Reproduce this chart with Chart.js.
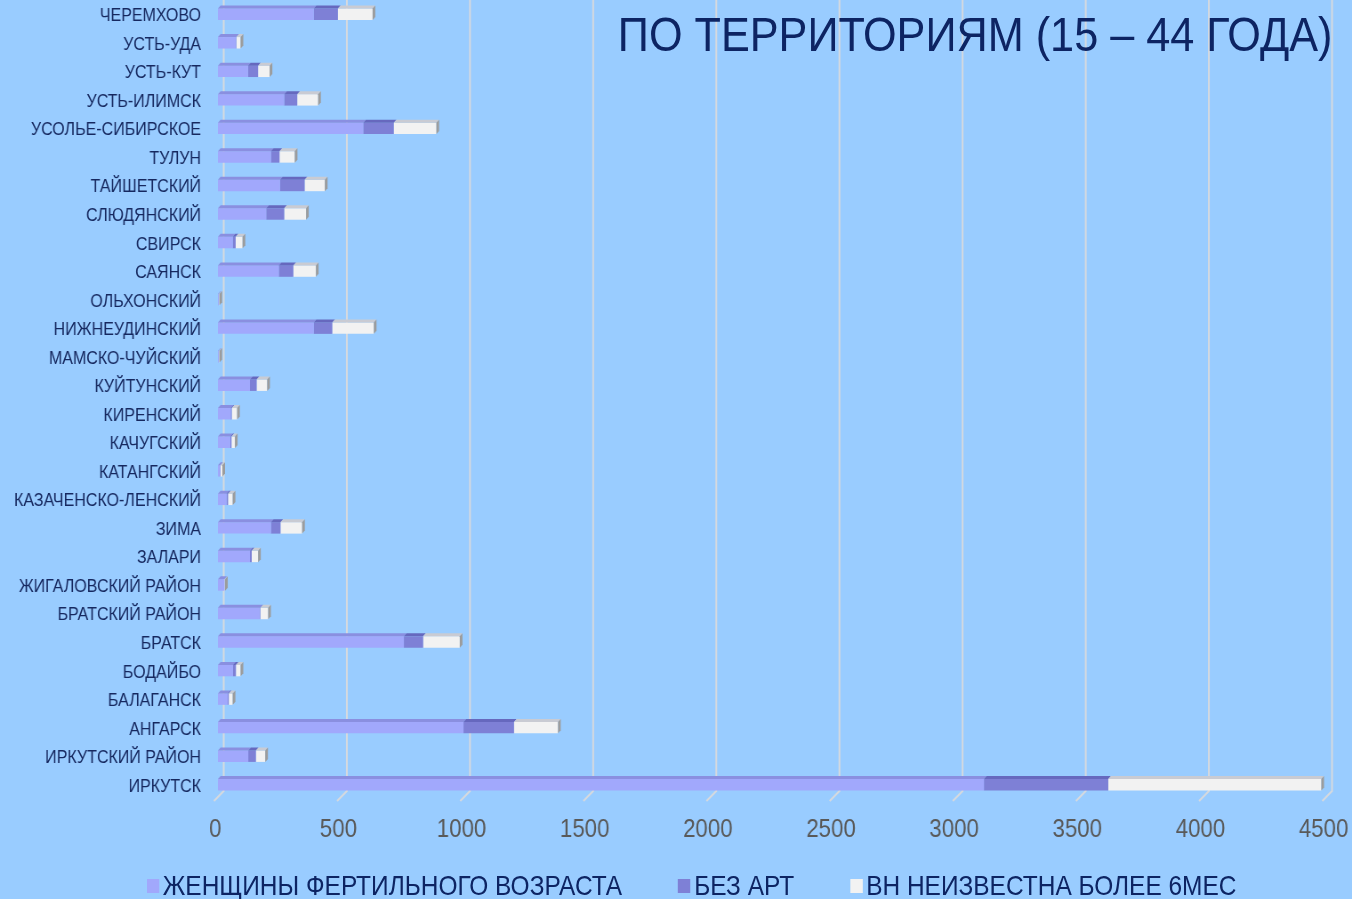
<!DOCTYPE html>
<html>
<head>
<meta charset="utf-8">
<script src="https://cdn.jsdelivr.net/npm/chart.js@4.4.1/dist/chart.umd.min.js"></script>
<style>
  html, body { margin: 0; padding: 0; background: #99CCFF; overflow: hidden; }
  #wrap { position: absolute; left: 0; top: 0; width: 1520px; height: 899px;
          transform: scaleX(0.8895); transform-origin: 0 0; }
  #c { position: absolute; left: 0; top: 0; }
  #title { position: absolute; right: 22px; top: 10px; font-family: "Liberation Sans", Arial, sans-serif;
           font-size: 48.6px; line-height: 48px; color: #0d2463; white-space: nowrap; }
  #legend { position: absolute; left: 165px; top: 872px; display: flex; align-items: center;
            font-family: "Liberation Sans", Arial, sans-serif; font-size: 27.5px; line-height: 27px; color: #0d2463; white-space: nowrap; }
  .item { display: flex; align-items: center; margin-right: 63px; }
  .box { width: 14px; height: 14px; margin-right: 4px; }
</style>
</head>
<body>
<div id="wrap">
  <canvas id="c" width="1520" height="899"></canvas>
  <div id="title">ПО ТЕРРИТОРИЯМ (15 – 44 ГОДА)</div>
  <div id="legend"></div>
</div>
<script>
const categories = ['ЧЕРЕМХОВО','УСТЬ-УДА','УСТЬ-КУТ','УСТЬ-ИЛИМСК','УСОЛЬЕ-СИБИРСКОЕ','ТУЛУН','ТАЙШЕТСКИЙ','СЛЮДЯНСКИЙ','СВИРСК','САЯНСК','ОЛЬХОНСКИЙ','НИЖНЕУДИНСКИЙ','МАМСКО-ЧУЙСКИЙ','КУЙТУНСКИЙ','КИРЕНСКИЙ','КАЧУГСКИЙ','КАТАНГСКИЙ','КАЗАЧЕНСКО-ЛЕНСКИЙ','ЗИМА','ЗАЛАРИ','ЖИГАЛОВСКИЙ РАЙОН','БРАТСКИЙ РАЙОН','БРАТСК','БОДАЙБО','БАЛАГАНСК','АНГАРСК','ИРКУТСКИЙ РАЙОН','ИРКУТСК'];
const women   = [389, 73,122,269,590,215,252,196, 60,247, 3,389, 3,130, 52, 50, 8, 35,215,130, 26,170,755, 61, 40, 997,123,3110];
const noArt   = [ 98,  2, 41, 53,124, 35,100, 73, 12, 59, 1, 75, 1, 27,  4,  5, 2,  6, 39,  7,  1,  2, 78, 12,  4, 205, 31, 505];
const unknown = [141, 17, 47, 85,173, 62, 82, 89, 28, 92, 2,169, 2, 43, 22, 14, 8, 19, 88, 26,  2, 32,149, 19, 16, 179, 38, 865];
const seriesNames = ['ЖЕНЩИНЫ ФЕРТИЛЬНОГО ВОЗРАСТА', 'БЕЗ АРТ', 'ВН НЕИЗВЕСТНА БОЛЕЕ 6МЕС'];
const xTicks = [0, 500, 1000, 1500, 2000, 2500, 3000, 3500, 4000, 4500];

const faceColors = ['#A1A8FC', '#7E80D6', '#F2F2F2'];
const topColors  = ['#8A8FE0', '#6668BE', '#C9CBD3'];
const capColor = '#9C9C9C';

// HTML legend from series names
const leg = document.getElementById('legend');
seriesNames.forEach((n, i) => {
  const it = document.createElement('div'); it.className = 'item';
  const b = document.createElement('div'); b.className = 'box'; b.style.background = faceColors[i];
  const t = document.createElement('span'); t.textContent = n;
  it.appendChild(b); it.appendChild(t); leg.appendChild(it);
});

const grid3d = {
  id: 'grid3d',
  beforeDatasetsDraw(chart) {
    const ctx = chart.ctx, xs = chart.scales.x;
    ctx.save();
    ctx.strokeStyle = '#D6D9DE';
    ctx.lineWidth = 2;
    xTicks.forEach(v => {
      const px = xs.getPixelForValue(v);
      const back = px + 6.5;
      ctx.beginPath();
      ctx.moveTo(back, 0);
      ctx.lineTo(back, 791);
      ctx.lineTo(px - 4.5, 801);
      ctx.stroke();
    });
    ctx.restore();
  },
  afterDatasetsDraw(chart) {
    const ctx = chart.ctx;
    const d = 3;
    const n = chart.data.labels.length;
    const lastEnd = new Array(n).fill(null);
    chart.data.datasets.forEach((ds, di) => {
      const meta = chart.getDatasetMeta(di);
      meta.data.forEach((el, i) => {
        const p = el.getProps(['x', 'y', 'base', 'height'], true);
        const x0 = Math.min(p.base, p.x), x1 = Math.max(p.base, p.x);
        const top = p.y - p.height / 2, bot = p.y + p.height / 2;
        if (x1 - x0 > 0.3) {
          ctx.fillStyle = topColors[di];
          ctx.beginPath();
          ctx.moveTo(x0, top); ctx.lineTo(x1, top); ctx.lineTo(x1 + d, top - d); ctx.lineTo(x0 + d, top - d);
          ctx.closePath(); ctx.fill();
          lastEnd[i] = { x: x1, top, bot };
        } else if (!lastEnd[i]) {
          lastEnd[i] = { x: x1, top, bot };
        }
      });
    });
    ctx.fillStyle = capColor;
    lastEnd.forEach(e => {
      if (!e) return;
      ctx.beginPath();
      ctx.moveTo(e.x, e.top); ctx.lineTo(e.x + d, e.top - d); ctx.lineTo(e.x + d, e.bot - d); ctx.lineTo(e.x, e.bot);
      ctx.closePath(); ctx.fill();
    });
  }
};

new Chart(document.getElementById('c'), {
  type: 'bar',
  data: {
    labels: categories,
    datasets: [women, noArt, unknown].map((arr, i) => ({
      label: seriesNames[i],
      data: arr,
      backgroundColor: faceColors[i],
      borderWidth: 0,
      barPercentage: 0.4,
      categoryPercentage: 1
    }))
  },
  options: {
    indexAxis: 'y',
    responsive: false,
    animation: false,
    devicePixelRatio: 1,
    layout: { padding: { left: 0, right: 29, top: 0, bottom: 0 } },
    plugins: { legend: { display: false }, tooltip: { enabled: false }, title: { display: false } },
    scales: {
      x: {
        stacked: true, min: 0, max: 4500,
        afterBuildTicks(s) { s.ticks = xTicks.map(v => ({ value: v })); },
        afterFit(s) { s.height = 100; s.paddingRight = 0; s.paddingLeft = 0; },
        grid: { display: false, drawTicks: false },
        border: { display: false },
        ticks: { padding: 16, labelOffset: -3, color: '#595959', callback: v => String(v),
                 font: { family: '"Liberation Sans", Arial, sans-serif', size: 25 } }
      },
      y: {
        stacked: true,
        afterFit(s) { s.width = 245; s.paddingTop = 0; s.paddingBottom = 0; },
        grid: { display: false, drawTicks: false },
        border: { display: false },
        ticks: { padding: 19, labelOffset: 2, color: '#16285F', font: { family: '"Liberation Sans", Arial, sans-serif', size: 18 } }
      }
    }
  },
  plugins: [grid3d]
});
</script>
</body>
</html>
